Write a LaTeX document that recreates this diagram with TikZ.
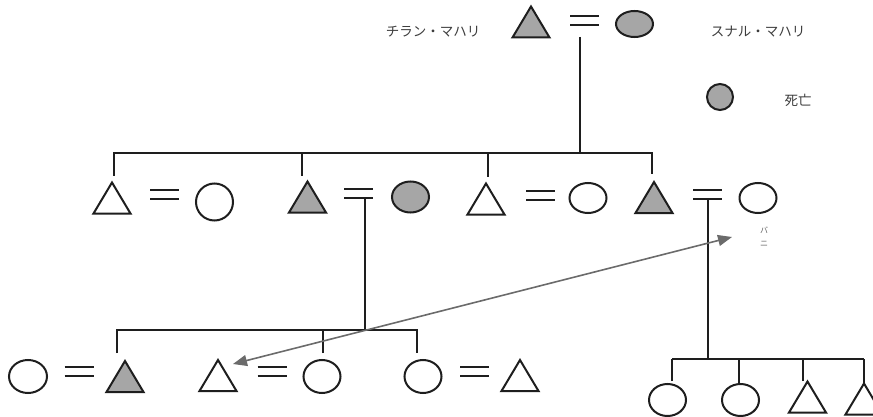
\documentclass[tikz,border=0pt]{standalone}
\usepackage{fontspec}
\newfontfamily\jpfont{Noto Sans CJK JP}
\usetikzlibrary{arrows.meta,shapes.geometric}

\definecolor{ink}{HTML}{1E1E1E}
\definecolor{deceased}{HTML}{A6A6A6}
\definecolor{linkgray}{HTML}{6B6B6B}
\definecolor{caption}{HTML}{3C3C3C}

\tikzset{
  x=1pt, y=-1pt,
  wire/.style={draw=ink, line width=2pt},
  openshape/.style={draw=ink, line width=2pt, fill=white},
  deadshape/.style={draw=ink, line width=2pt, fill=deceased},
  % female: ellipse node
  woman/.style={ellipse, inner sep=0pt, minimum width=37pt, minimum height=31pt},
  % male: isosceles triangle pointing up
  man/.pic={\path[pic actions] (0,-15.5) coordinate (-apex) -- (18.5,15.5) -- (-18.5,15.5) -- cycle;},
  % marriage sign
  wed/.pic={\path[pic actions] (-14.5,-4.5) -- (14.5,-4.5) (-14.5,4.5) -- (14.5,4.5);
            \coordinate (-low) at (0,4.5);},
  label/.style={font=\jpfont\fontsize{13.5pt}{15pt}\selectfont, text=caption, inner sep=0pt},
  tiny/.style={font=\jpfont\fontsize{8pt}{13pt}\selectfont, text=black!60, inner sep=0pt, align=center},
  cross link/.style={draw=linkgray, line width=1.6pt, {Triangle[length=14pt,width=11pt]}-{Triangle[length=14pt,width=11pt]}},
}

\begin{document}
\begin{tikzpicture}
\useasboundingbox (0,0) rectangle (873,417);
\clip (0,0) rectangle (873,417);

% ---------- first generation ----------
\pic[deadshape] (chiran) at (531,22) {man};
\pic[wire] (w0) at (584.5,20.5) {wed};
\node[woman, deadshape, minimum height=26pt] (sunal) at (634.5,24) {};
\node[label] (chiranname) at (433,32) {チラン・マハリ};
\node[label] (sunalname) at (758,32) {スナル・マハリ};

% legend
\node[deadshape, circle, inner sep=0pt, minimum size=26pt] (legendmark) at (720,97) {};
\node[label] (legendtext) at (798,100) {死亡};

% ---------- second generation ----------
\pic[openshape] (A) at (112,198) {man};
\pic[wire] (wAB) at (164.5,194.5) {wed};
\node[woman, openshape, minimum height=37pt] (B) at (214.5,202) {};

\pic[deadshape] (C) at (307.5,197) {man};
\pic[wire] (wCD) at (358.5,193.5) {wed};
\node[woman, deadshape] (D) at (410.5,197) {};

\pic[openshape] (E) at (486,199) {man};
\pic[wire] (wEF) at (540.5,195.5) {wed};
\node[woman, openshape, minimum height=30pt] (F) at (588,198) {};

\pic[deadshape] (G) at (654,197.5) {man};
\pic[wire] (wGH) at (707.5,194.5) {wed};
\node[woman, openshape, minimum height=30pt] (H) at (758,198) {};
\node[tiny] (bani) at (764,236.5) {バ\\ニ};

% sibling bar of the second generation
\coordinate (top drop) at (580,37);
\coordinate (bar1) at (580,153);
\coordinate (A-stub) at (114,176);
\coordinate (C-stub) at (302,176);
\coordinate (E-stub) at (488,177);
\coordinate (G-stub) at (652,174);
\draw[wire] (top drop) -- (bar1);
\draw[wire] (A-stub) -- (A-stub |- bar1) -- (G-stub |- bar1) -- (G-stub);
\draw[wire] (C-stub) -- (C-stub |- bar1);
\draw[wire] (E-stub) -- (E-stub |- bar1);

% ---------- third generation (children of C and D) ----------
\node[woman, openshape, minimum width=38pt, minimum height=33pt] (I) at (28,376.5) {};
\pic[wire] (wIJ) at (79,371.5) {wed};
\pic[deadshape] (J) at (125,376.5) {man};

\pic[openshape] (K) at (218,375.5) {man};
\pic[wire] (wKL) at (272,371.5) {wed};
\node[woman, openshape, minimum height=33pt] (L) at (322,376.5) {};

\node[woman, openshape, minimum height=33pt] (M) at (423,376.5) {};
\pic[wire] (wMN) at (474.5,371.5) {wed};
\pic[openshape] (N) at (520,375.5) {man};

\coordinate (CD drop) at (365,198);
\coordinate (bar2) at (365,330);
\coordinate (J-stub) at (117,353);
\coordinate (L-stub) at (323,353);
\coordinate (M-stub) at (417,353);
\draw[wire] (CD drop) -- (bar2);
\draw[wire] (J-stub) -- (J-stub |- bar2) -- (M-stub |- bar2) -- (M-stub);
\draw[wire] (L-stub) -- (L-stub |- bar2);

% ---------- third generation (children of G and H) ----------
\node[woman, openshape, minimum height=32pt] (P) at (667.5,400) {};
\node[woman, openshape, minimum height=32pt] (Q) at (740.5,400) {};
\pic[openshape] (R) at (807.5,397) {man};
\pic[openshape] (S) at (864,399) {man};

\coordinate (GH drop) at (708,198);
\coordinate (bar3) at (708,359);
\coordinate (P-stub) at (672,381);
\coordinate (Q-stub) at (739,383);
\coordinate (R-stub) at (803,381);
\coordinate (S-stub) at (864,384);
\draw[wire] (GH drop) -- (bar3);
\draw[wire, line width=2.8pt] (P-stub |- bar3) -- (S-stub |- bar3);
\foreach \s in {P,Q,R,S} \draw[wire] (\s-stub) -- (\s-stub |- bar3);

% ---------- cross link ----------
\coordinate (link top) at (732,237);
\coordinate (link bottom) at (233,364);
\draw[cross link] (link top) -- (link bottom);
\end{tikzpicture}
\end{document}
